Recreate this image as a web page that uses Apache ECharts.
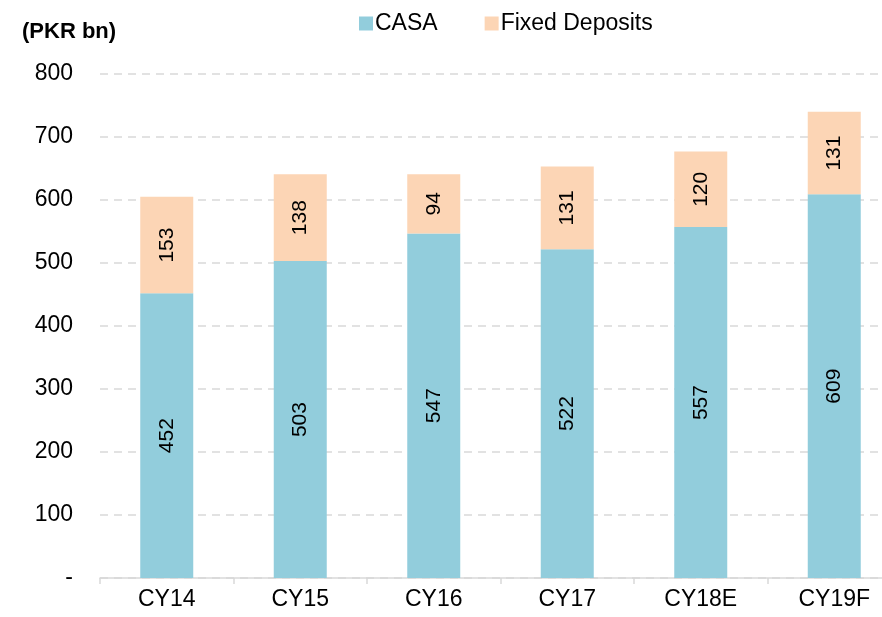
<!DOCTYPE html>
<html>
<head>
<meta charset="utf-8">
<script src="https://cdn.jsdelivr.net/npm/echarts@6/dist/echarts.min.js"></script>
<style>
  html, body { margin: 0; padding: 0; background: #fff; }
  #chart { width: 882px; height: 617px; }
</style>
</head>
<body>
<div id="chart"></div>
<script>
// 数据
var years = ['CY14', 'CY15', 'CY16', 'CY17', 'CY18E', 'CY19F'];
var casa = [452, 503, 547, 522, 557, 609];
var fixedDeposits = [153, 138, 94, 131, 120, 131];

var chart = echarts.init(document.getElementById('chart'));

var labelStyle = {
  show: true,
  position: 'inside',
  rotate: 90,
  color: '#000',
  fontSize: 21,
  fontFamily: 'Liberation Sans, Arial, sans-serif'
};

chart.setOption({
  animation: false,
  textStyle: { fontFamily: 'Liberation Sans, Arial, sans-serif' },
  title: {
    text: '(PKR bn)',
    left: 22,
    top: 21,
    padding: 0,
    textStyle: { fontSize: 22, fontWeight: 'bold', color: '#000' }
  },
  legend: {
    top: 7,
    left: 354,
    itemWidth: 14,
    itemHeight: 14,
    itemGap: 47,
    icon: 'rect',
    textStyle: { fontSize: 23, color: '#000', padding: [0, 0, 0, -3] },
    data: ['CASA', 'Fixed Deposits']
  },
  grid: {
    left: 100,
    width: 801,   // 原图右侧被裁掉了一截
    top: 74,
    bottom: 39,
    outerBoundsMode: 'none'
  },
  xAxis: {
    type: 'category',
    data: years,
    axisLine: { lineStyle: { color: '#d9d9d9', width: 1.5 } },
    axisTick: { show: true, length: 6, lineStyle: { color: '#d9d9d9', width: 1.5 } },
    axisLabel: { fontSize: 23, color: '#000', margin: 10 }
  },
  yAxis: {
    type: 'value',
    min: 0,
    max: 800,
    interval: 100,
    axisLine: { show: false },
    axisTick: { show: false },
    axisLabel: {
      fontSize: 23,
      color: '#000',
      margin: 27,
      formatter: function (v) { return v === 0 ? '-' : v; }
    },
    splitLine: { lineStyle: { color: '#d9d9d9', type: [8, 6], width: 1.5 } }
  },
  series: [
    {
      name: 'CASA',
      type: 'bar',
      stack: 'total',
      barWidth: 53,
      data: casa,
      itemStyle: { color: '#92CDDC' },
      label: labelStyle
    },
    {
      name: 'Fixed Deposits',
      type: 'bar',
      stack: 'total',
      barWidth: 53,
      data: fixedDeposits,
      itemStyle: { color: '#FCD5B5' },
      label: labelStyle
    }
  ]
});
</script>
</body>
</html>
